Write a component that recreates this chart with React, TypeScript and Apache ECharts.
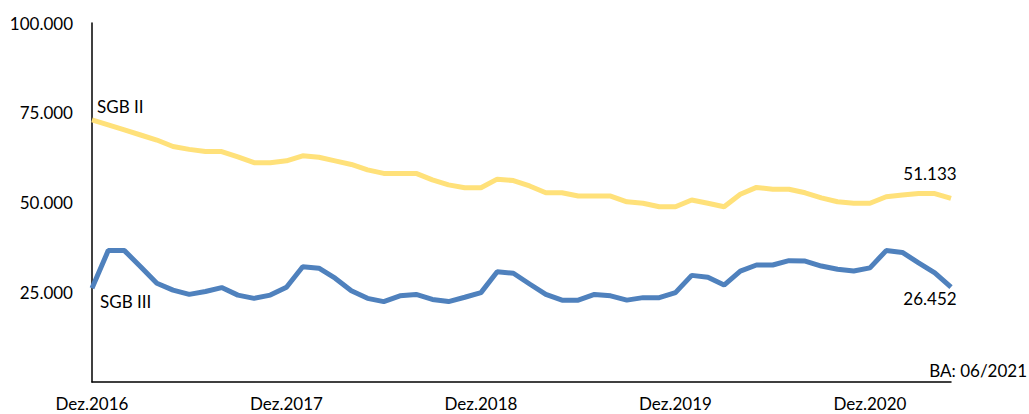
import React, { useEffect, useRef } from "react";
import * as echarts from "echarts";

const monthNames = ["Dez", "Jan", "Feb", "Mär", "Apr", "Mai", "Jun", "Jul", "Aug", "Sep", "Okt", "Nov"];
const startYear = 2016;
const monthCount = 54;
const categories: string[] = [];
for (let i = 0; i < monthCount; i++) {
  const year = startYear + Math.floor((i + 11) / 12);
  categories.push(monthNames[i % 12] + "." + year);
}

const sgb2 = [
  73000, 71600, 70200, 68800, 67400, 65600, 64800, 64200, 64200, 62700, 61100, 61100,
  61600, 63000, 62600, 61600, 60600, 59100, 58100, 58100, 58100, 56300, 54900, 54100,
  54100, 56500, 56100, 54600, 52700, 52700, 51800, 51800, 51800, 50200, 49800, 48800,
  48800, 50700, 49800, 48800, 52300, 54200, 53700, 53700, 52700, 51300, 50200, 49800,
  49800, 51600, 52100, 52500, 52500, 51133,
];

const sgb3 = [
  26100, 36600, 36600, 32100, 27500, 25600, 24400, 25200, 26300, 24200, 23300, 24200,
  26400, 32100, 31700, 28900, 25400, 23300, 22400, 24000, 24400, 23000, 22400, 23600,
  24900, 30700, 30300, 27300, 24400, 22800, 22800, 24400, 24000, 22800, 23500, 23500,
  24900, 29700, 29200, 27000, 30900, 32600, 32600, 33800, 33700, 32300, 31400, 30900,
  31800, 36600, 36100, 33200, 30400, 26452,
];

const yTicks = [0, 25000, 50000, 75000, 100000];
const seriesNames = ["SGB II", "SGB III"];
const sourceNote = "BA: 06/2021";

const fmt = (v: number) => {
  const s = Math.round(v).toString();
  return s.replace(/\B(?=(\d{3})+(?!\d))/g, ".");
};

const FONT = "Lato, 'Noto Sans', sans-serif";
const FS = 17;

export default function App() {
  const ref = useRef<HTMLDivElement>(null);
  useEffect(() => {
    document.body.style.margin = "0";
    if (!ref.current) return;
    const chart = echarts.init(ref.current, undefined, { renderer: "svg" });
    const last = monthCount - 1;
    chart.setOption({
      animation: false,
      backgroundColor: "#ffffff",
      textStyle: { fontFamily: FONT },
      grid: { left: 92, right: 78, top: 23, bottom: 32, containLabel: false },
      xAxis: {
        type: "category",
        data: categories,
        boundaryGap: false,
        axisLine: { show: true, lineStyle: { color: "#000", width: 1.5 } },
        axisTick: { show: false },
        splitLine: { show: false },
        axisLabel: {
          interval: (index: number) => index % 12 === 0,
          color: "#000",
          fontSize: FS,
          lineHeight: 17,
          fontFamily: FONT,
          margin: 13,
        },
      },
      yAxis: {
        type: "value",
        min: yTicks[0],
        max: yTicks[yTicks.length - 1],
        interval: yTicks[1] - yTicks[0],
        axisLine: { show: true, lineStyle: { color: "#000", width: 1.5 } },
        axisTick: { show: false },
        splitLine: { show: false },
        axisLabel: {
          color: "#000",
          fontSize: FS,
          fontFamily: FONT,
          margin: 19,
          formatter: (v: number) => (v === 0 ? "" : fmt(v)),
        },
      },
      series: [
        {
          name: seriesNames[0],
          type: "line",
          data: sgb2,
          showSymbol: false,
          lineStyle: { color: "#FFE17A", width: 5 },
          itemStyle: { color: "#FFE17A" },
          markPoint: {
            symbol: "circle",
            symbolSize: 0,
            data: [{ coord: [last, sgb2[last]], value: sgb2[last] }],
            label: {
              show: true,
              formatter: (p: any) => fmt(p.value),
              color: "#000",
              fontSize: FS,
              fontFamily: FONT,
              offset: [-21, -25],
            },
          },
        },
        {
          name: seriesNames[1],
          type: "line",
          data: sgb3,
          showSymbol: false,
          lineStyle: { color: "#4F81BD", width: 5 },
          itemStyle: { color: "#4F81BD" },
          markPoint: {
            symbol: "circle",
            symbolSize: 0,
            data: [{ coord: [last, sgb3[last]], value: sgb3[last] }],
            label: {
              show: true,
              formatter: (p: any) => fmt(p.value),
              color: "#000",
              fontSize: FS,
              fontFamily: FONT,
              offset: [-21, 11],
            },
          },
        },
      ],
      graphic: [
        {
          type: "text",
          left: 97,
          top: 98,
          style: { text: seriesNames[0], fill: "#000", fontSize: FS, fontFamily: FONT },
        },
        {
          type: "text",
          left: 100,
          top: 293,
          style: { text: seriesNames[1], fill: "#000", fontSize: FS, fontFamily: FONT },
        },
        {
          type: "text",
          right: 2,
          top: 362,
          style: { text: sourceNote, fill: "#000", fontSize: FS, fontFamily: FONT },
        },
      ],
    });
    return () => chart.dispose();
  }, []);
  return <div ref={ref} style={{ width: 1029, height: 414 }} />;
}
